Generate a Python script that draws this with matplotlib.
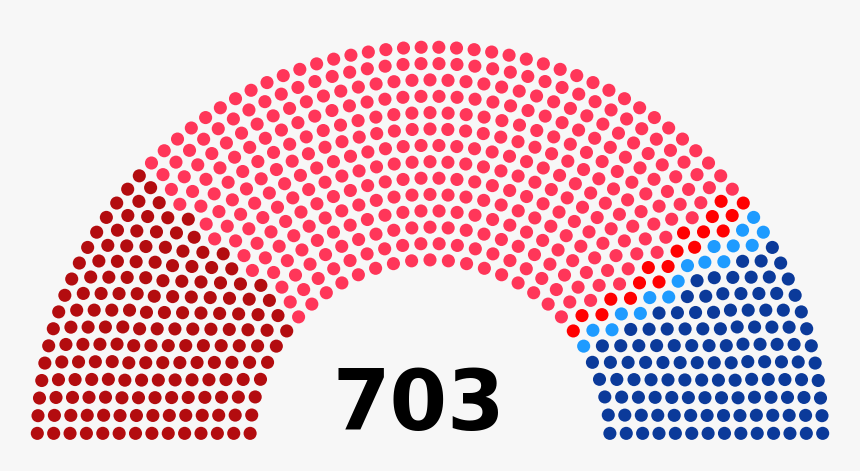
import math
import matplotlib
matplotlib.use("Agg")
import matplotlib.pyplot as plt
from matplotlib.patches import Circle
from matplotlib.collections import PatchCollection

# Party seat counts, left to right
parties = ["Party A", "Party B", "Party C", "Party D", "Party E"]
seats = [168, 380, 18, 17, 120]
colors = ["#B30C0F", "#FF3659", "#FF0000", "#1E9BFF", "#0B3A9A"]
total_label = "703"

TOTALS = [3, 15, 33, 61, 95, 138, 189, 247, 313, 388, 469, 559, 657, 762, 876, 997,
          1126, 1263, 1408, 1560, 1722, 1889, 2066, 2250, 2442, 2641, 2850, 3064]

n = sum(seats)
rows = next(i + 1 for i, t in enumerate(TOTALS) if t >= n)
radius = 0.4 / rows

pos = []
for i in range(1, rows):
    R = (3.0 * rows + 4.0 * i - 2.0) / (4.0 * rows)
    J = int(float(n) / TOTALS[rows - 1] * math.pi / (2 * math.asin(2.0 / (3.0 * rows + 4.0 * i - 2.0))))
    if J == 1:
        pos.append((math.pi / 2, 0.0, R))
    else:
        for j in range(J):
            a = j * (math.pi - 2.0 * math.sin(radius / R)) / (J - 1.0) + math.sin(radius / R)
            pos.append((a, R * math.cos(a), R * math.sin(a)))
R = (7.0 * rows - 2.0) / (4.0 * rows)
J = n - len(pos)
for j in range(J):
    a = j * (math.pi - 2.0 * math.sin(radius / R)) / (J - 1.0) + math.sin(radius / R)
    pos.append((a, R * math.cos(a), R * math.sin(a)))
pos.sort(reverse=True)

W, H = 860, 471
fig = plt.figure(figsize=(W / 100, H / 100), dpi=100)
fig.patch.set_facecolor("#F7F7F7")
ax = fig.add_axes([0, 0, 1, 1])
ax.set_facecolor("#F7F7F7")
scale = 229.1
cx, cy = 430.0, 439.9
ax.set_xlim(-cx / scale, (W - cx) / scale)
ax.set_ylim((cy - H) / scale, cy / scale)
ax.set_aspect("equal")
ax.axis("off")

patches, fc = [], []
k = 0
for cnt, col in zip(seats, colors):
    for _ in range(cnt):
        _, x, y = pos[k]
        patches.append(Circle((x, y), radius))
        fc.append(col)
        k += 1
ax.add_collection(PatchCollection(patches, facecolors=fc, edgecolors="none"))

ax.text(-0.05, (cy - 430) / scale, total_label, ha="center", va="baseline",
        fontsize=59.5, fontweight="bold", color="black", family="DejaVu Sans")

fig.savefig("out.png", dpi=100, facecolor=fig.get_facecolor())
